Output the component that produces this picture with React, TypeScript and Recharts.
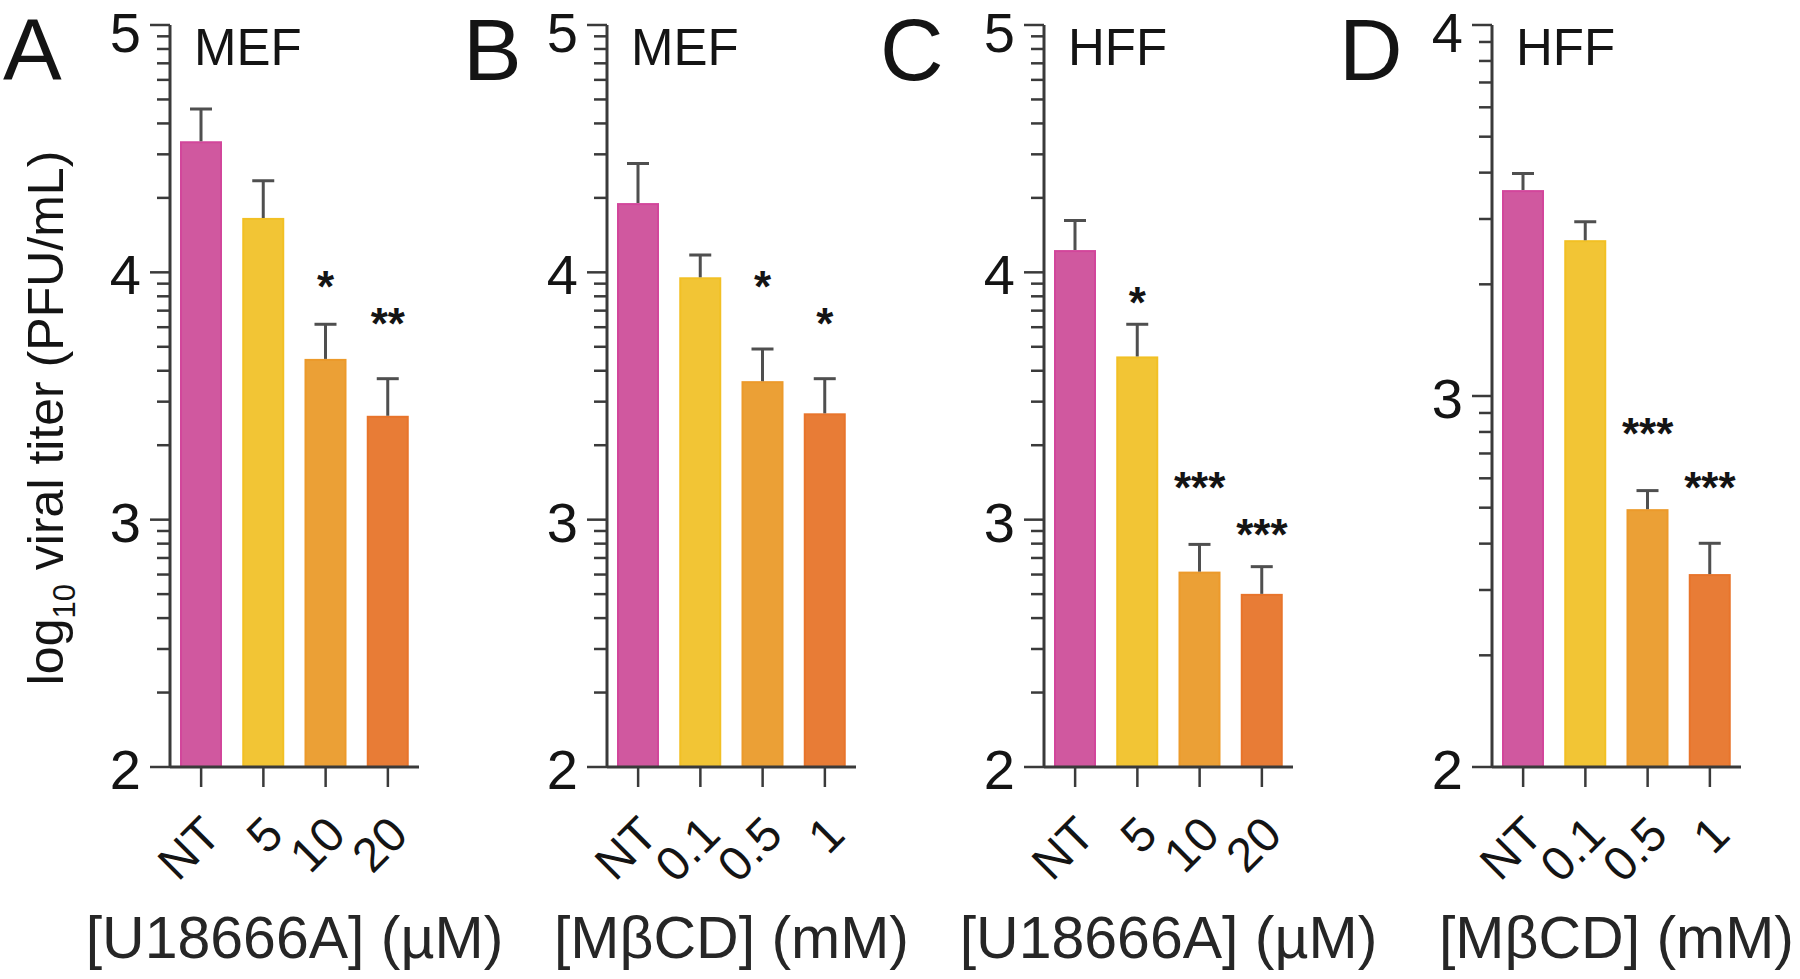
import React from "react";
import { ComposedChart, Bar, Cell, XAxis, YAxis, Scatter } from "recharts";

const FONT = '"Liberation Sans", Arial, Helvetica, sans-serif';
const BAR_COLORS = ["#D0589F", "#F2C535", "#EBA036", "#E87C36"];
const BAR_EDGES = ["#D2469B", "#F2C024", "#EC9A2B", "#E8742B"];
const AXIS_COLOR = "#3a3a3a";
const ERR_COLOR = "#4f4f4f";
const TEXT_COLOR = "#141414";

// doses on the x axes
const U_DOSES = ["NT", "5", "10", "20"];
const M_DOSES = ["NT", "0.1", "0.5", "1"];

// A: MEF, U18666A
const A_MEAN = [4.53, 4.22, 3.65, 3.42];
const A_ERR = [0.13, 0.15, 0.14, 0.15];
const A_SIG = ["", "", "*", "**"];
const A_SIG_Y = [null, null, 3.98, 3.83];

// B: MEF, MbCD
const B_MEAN = [4.28, 3.98, 3.56, 3.43];
const B_ERR = [0.16, 0.09, 0.13, 0.14];
const B_SIG = ["", "", "*", "*"];
const B_SIG_Y = [null, null, 3.98, 3.83];

// C: HFF, U18666A
const C_MEAN = [4.09, 3.66, 2.79, 2.7];
const C_ERR = [0.12, 0.13, 0.11, 0.11];
const C_SIG = ["", "*", "***", "***"];
const C_SIG_Y = [null, 3.915, 3.17, 2.98];

// D: HFF, MbCD
const D_MEAN = [3.555, 3.42, 2.695, 2.52];
const D_ERR = [0.045, 0.05, 0.05, 0.083];
const D_SIG = ["", "", "***", "***"];
const D_SIG_Y = [null, null, 2.925, 2.78];

// minor ticks of a log10 axis sit at log10(k) inside each decade
const LOG_MINOR = [2, 3, 4, 5, 6, 7, 8, 9];
function logTicks(lo: number, hi: number) {
  const t: number[] = [];
  for (let d = lo; d < hi; d++) {
    t.push(d);
    LOG_MINOR.forEach((k) => t.push(d + Math.log10(k)));
  }
  t.push(hi);
  return t;
}

const CHART_H = 979;
const PLOT_TOP = 25;
const PLOT_BOTTOM = 767;
const PLOT_W = 249;
const LEFT_PAD = 171;
const RIGHT_PAD = 100;
const Y_AXIS_W = 120;
const X_AXIS_H = 190;

const PANELS = [
  { letter: "A", letterX: 3, cell: "MEF", axisX: 170, doses: U_DOSES, mean: A_MEAN, err: A_ERR, sig: A_SIG, sigY: A_SIG_Y, domain: [2, 5], title: "[U18666A] (µM)" },
  { letter: "B", letterX: 463, cell: "MEF", axisX: 607, doses: M_DOSES, mean: B_MEAN, err: B_ERR, sig: B_SIG, sigY: B_SIG_Y, domain: [2, 5], title: "[MβCD] (mM)" },
  { letter: "C", letterX: 880, cell: "HFF", axisX: 1044, doses: U_DOSES, mean: C_MEAN, err: C_ERR, sig: C_SIG, sigY: C_SIG_Y, domain: [2, 5], title: "[U18666A] (µM)" },
  { letter: "D", letterX: 1339, cell: "HFF", axisX: 1492, doses: M_DOSES, mean: D_MEAN, err: D_ERR, sig: D_SIG, sigY: D_SIG_Y, domain: [2, 4], title: "[MβCD] (mM)" },
];

function YTick(props: any) {
  const { x, y, payload } = props;
  const v = payload.value;
  const major = Math.abs(v - Math.round(v)) < 1e-6;
  const len = major ? 20 : 13;
  // keep the top label's font box inside the page
  const baseline = Math.max(y + 22, 52);
  return (
    <g>
      <line x1={x - len} y1={y} x2={x} y2={y} stroke={AXIS_COLOR} strokeWidth={2.5} />
      {major && (
        <text x={x - 29} y={baseline} textAnchor="end" fontSize={56} fontFamily={FONT} fill={TEXT_COLOR}>
          {Math.round(v)}
        </text>
      )}
    </g>
  );
}

function XTick(props: any) {
  const { x, y, payload } = props;
  return (
    <g>
      <line x1={x} y1={y} x2={x} y2={y + 20} stroke={AXIS_COLOR} strokeWidth={2.5} />
      <text
        transform={`translate(${x + 10},${y + 58}) rotate(-45)`}
        textAnchor="end"
        dy="0.36em"
        fontSize={48}
        fontFamily={FONT}
        fill={TEXT_COLOR}
      >
        {payload.value}
      </text>
    </g>
  );
}

function XTitle(props: any) {
  const { viewBox, value } = props;
  if (!viewBox) return null;
  return (
    <text
      x={viewBox.x + viewBox.width / 2}
      y={viewBox.y + 191}
      textAnchor="middle"
      fontSize={59}
      fontFamily={FONT}
      fill="#262626"
    >
      {value}
    </text>
  );
}

function makeBarShape(domainMin: number) {
  return function BarWithError(props: any) {
    const { x, y, width, height, fill, stroke, payload } = props;
    if (height == null || height <= 0) return null;
    const pxPerUnit = height / (payload.mean - domainMin);
    const cx = x + width / 2;
    const top = y - payload.err * pxPerUnit;
    return (
      <g>
        <rect x={x + 1} y={y + 1} width={width - 2} height={height - 1} fill={fill} stroke={stroke} strokeWidth={2} />
        <line x1={cx} y1={y} x2={cx} y2={top} stroke={ERR_COLOR} strokeWidth={3} />
        <line x1={cx - 11} y1={top} x2={cx + 11} y2={top} stroke={ERR_COLOR} strokeWidth={3} />
      </g>
    );
  };
}

function SigMark(props: any) {
  const { cx, cy, payload } = props;
  if (!payload || !payload.sig || cx == null || cy == null) return null;
  return (
    <text x={cx} y={cy} dy={25} textAnchor="middle" fontSize={44} fontWeight="bold" fontFamily={FONT} fill={TEXT_COLOR}>
      {payload.sig}
    </text>
  );
}

function Panel({ p }: { p: (typeof PANELS)[number] }) {
  const rows = p.doses.map((dose, i) => ({
    dose,
    mean: p.mean[i],
    err: p.err[i],
    sig: p.sig[i],
    sigY: p.sigY[i],
  }));
  const ticks = logTicks(p.domain[0], p.domain[1]);
  return (
    <div style={{ position: "absolute", left: p.axisX - LEFT_PAD, top: 0 }}>
      <ComposedChart
        width={LEFT_PAD + PLOT_W + RIGHT_PAD}
        height={CHART_H}
        data={rows}
        margin={{
          top: PLOT_TOP,
          right: RIGHT_PAD,
          left: LEFT_PAD - Y_AXIS_W,
          bottom: CHART_H - PLOT_BOTTOM - X_AXIS_H,
        }}
      >
        <XAxis
          dataKey="dose"
          type="category"
          interval={0}
          height={X_AXIS_H}
          tick={(t: any) => <XTick {...t} />}
          tickLine={false}
          tickSize={0}
          tickMargin={0}
          axisLine={{ stroke: AXIS_COLOR, strokeWidth: 3 }}
          label={{ value: p.title, content: (l: any) => <XTitle {...l} value={p.title} /> }}
        />
        <YAxis
          type="number"
          domain={p.domain}
          ticks={ticks}
          interval={0}
          width={Y_AXIS_W}
          allowDataOverflow
          tick={(t: any) => <YTick {...t} />}
          tickLine={false}
          tickSize={0}
          tickMargin={0}
          axisLine={{ stroke: AXIS_COLOR, strokeWidth: 3 }}
        />
        <Bar dataKey="mean" barSize={42} isAnimationActive={false} shape={makeBarShape(p.domain[0])}>
          {rows.map((r, i) => (
            <Cell key={r.dose} fill={BAR_COLORS[i]} stroke={BAR_EDGES[i]} />
          ))}
        </Bar>
        <Scatter dataKey="sigY" isAnimationActive={false} shape={(s: any) => <SigMark {...s} />} />
      </ComposedChart>
    </div>
  );
}

export default function App() {
  return (
    <div
      style={{
        position: "absolute",
        left: 0,
        top: 0,
        width: 1800,
        height: CHART_H,
        background: "#fff",
        overflow: "hidden",
      }}
    >
      {PANELS.map((p) => (
        <Panel key={p.letter} p={p} />
      ))}
      <svg
        width={1800}
        height={CHART_H}
        style={{ position: "absolute", left: 0, top: 0, pointerEvents: "none" }}
      >
        {PANELS.map((p) => (
          <g key={p.letter}>
            <text x={p.letterX} y={80} fontSize={88} fontFamily={FONT} fill={TEXT_COLOR}>
              {p.letter}
            </text>
            <text x={p.axisX + 24} y={65} fontSize={51} fontFamily={FONT} fill={TEXT_COLOR}>
              {p.cell}
            </text>
          </g>
        ))}
        <text
          transform="translate(63,418) rotate(-90)"
          textAnchor="middle"
          fontSize={50}
          fontFamily={FONT}
          fill={TEXT_COLOR}
        >
          log
          <tspan fontSize={31} dy={12}>
            10
          </tspan>
          <tspan dy={-12}> viral titer (PFU/mL)</tspan>
        </text>
      </svg>
    </div>
  );
}
